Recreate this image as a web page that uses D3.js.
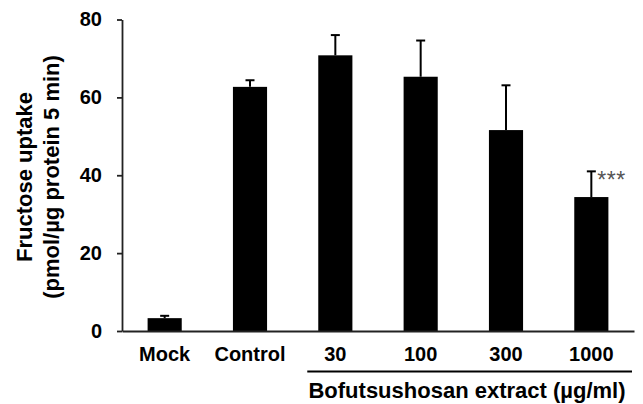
<!DOCTYPE html>
<html lang="en">
<head>
<meta charset="utf-8" />
<title>Fructose uptake</title>
<script src="https://cdn.jsdelivr.net/npm/d3@7/dist/d3.min.js"></script>
<style>
  body { margin: 0; background: #fff; }
  text { font-family: "Liberation Sans", Arial, sans-serif; }
</style>
</head>
<body>
<svg width="643" height="404"></svg>
<script>
// data
var categories = ["Mock", "Control", "30", "100", "300", "1000"];
var values = [3.3, 62.7, 70.8, 65.3, 51.6, 34.4];
var errors = [0.6, 1.7, 5.2, 9.3, 11.5, 6.6];
var marks = ["", "", "", "", "", "***"];
var yTicks = [0, 20, 40, 60, 80];
var groupLabel = "Bofutsushosan extract (\u00b5g/ml)";
var groupMembers = ["30", "100", "300", "1000"];

var svg = d3.select("svg");
var font = "Liberation Sans, Arial, sans-serif";

var x = d3.scaleBand().domain(categories).range([122, 634])
    .paddingInner(0.6).paddingOuter(0.3);
var y = d3.scaleLinear().domain([0, 80]).range([331, 19.5]);

// bars
svg.selectAll("rect.bar")
    .data(values)
    .enter().append("rect")
    .attr("class", "bar")
    .attr("x", function (d, i) { return x(categories[i]); })
    .attr("y", function (d) { return y(d); })
    .attr("width", x.bandwidth())
    .attr("height", function (d) { return y(0) - y(d); })
    .attr("fill", "#000");

// error bars (upper only)
var eb = svg.append("g").attr("stroke", "#000").attr("stroke-width", 2);
values.forEach(function (v, i) {
    var cx = x(categories[i]) + x.bandwidth() / 2;
    var top = y(v + errors[i]);
    eb.append("line")
        .attr("x1", cx).attr("x2", cx)
        .attr("y1", y(v)).attr("y2", top);
    eb.append("line")
        .attr("x1", cx - 4.5).attr("x2", cx + 4.5)
        .attr("y1", top).attr("y2", top);
    if (marks[i]) {
        svg.append("text")
            .attr("x", cx + 6)
            .attr("y", top + 17)
            .attr("font-size", 23)
            .attr("letter-spacing", 0.5)
            .attr("fill", "#555")
            .text(marks[i]);
    }
});

// y axis
var yAxis = svg.append("g")
    .attr("transform", "translate(122,0)")
    .call(d3.axisLeft(y).tickValues(yTicks).tickSizeInner(5).tickSizeOuter(0).tickPadding(15));
yAxis.select(".domain").attr("stroke", "#222").attr("stroke-width", 1.8);
yAxis.selectAll(".tick line").attr("stroke", "#222").attr("stroke-width", 1.8);
yAxis.selectAll(".tick text")
    .attr("font-size", 20).attr("font-weight", "bold").attr("fill", "#000")
    .attr("font-family", font);

// x axis
var xAxis = svg.append("g")
    .attr("transform", "translate(0,331)")
    .call(d3.axisBottom(x).tickSize(0).tickPadding(16));
xAxis.select(".domain").attr("stroke", "#222").attr("stroke-width", 1.8);
xAxis.selectAll(".tick text")
    .attr("font-size", 20).attr("font-weight", "bold").attr("fill", "#000")
    .attr("font-family", font);

// group bracket
var gx0 = x(groupMembers[0]) - 11;
var gx1 = 632;
svg.append("line")
    .attr("x1", gx0).attr("x2", gx1)
    .attr("y1", 371.5).attr("y2", 371.5)
    .attr("stroke", "#000").attr("stroke-width", 1.8);
svg.append("text")
    .attr("x", 467)
    .attr("y", 398)
    .attr("text-anchor", "middle")
    .attr("font-size", 22).attr("font-weight", "bold")
    .text(groupLabel);

// y axis title
var yt = svg.append("text")
    .attr("transform", "translate(0,177) rotate(-90)")
    .attr("text-anchor", "middle")
    .attr("font-size", 22).attr("font-weight", "bold");
yt.append("tspan").attr("x", 0).attr("y", 32).text("Fructose uptake");
yt.append("tspan").attr("x", 0).attr("y", 59).text("(pmol/\u00b5g protein 5 min)");
</script>
</body>
</html>
